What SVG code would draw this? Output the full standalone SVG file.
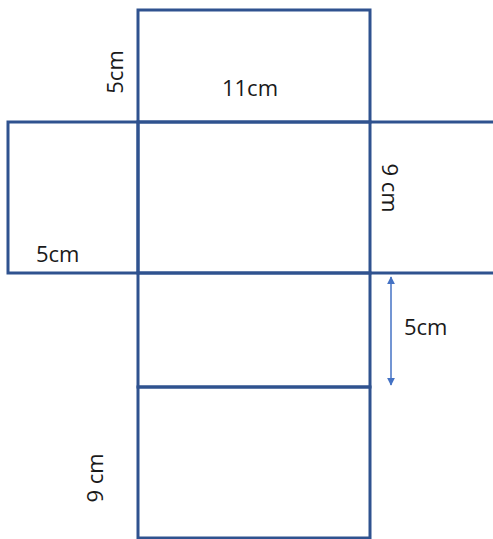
<svg xmlns="http://www.w3.org/2000/svg" width="493" height="539" viewBox="0 0 493 539">
<defs>
<style>
.face{fill:none;stroke:#2F528F;stroke-width:3}
.lbl{font-family:"Open Sans","Liberation Sans",sans-serif;font-size:22px;fill:#1a1a1a}
.dim{stroke:#4472C4;stroke-width:1.5;fill:none}
</style>
<marker id="ah" viewBox="0 0 10 10" refX="9" refY="5" markerWidth="8" markerHeight="8" orient="auto-start-reverse" markerUnits="userSpaceOnUse">
<path d="M0,0 L10,5 L0,10 z" fill="#4472C4"/>
</marker>
</defs>
<rect width="493" height="539" fill="#fff"/>
<g id="top-face">
<rect class="face" x="138" y="10" width="232" height="112"/>
<text class="lbl" x="250" y="96" text-anchor="middle">11cm</text>
<text class="lbl" x="0" y="0" text-anchor="middle" transform="translate(123,72) rotate(-90)">5cm</text>
</g>
<g id="left-face">
<rect class="face" x="8" y="122" width="130" height="151"/>
<text class="lbl" x="36" y="262">5cm</text>
</g>
<g id="front-face">
<rect class="face" x="138" y="122" width="232" height="151"/>
</g>
<g id="right-face">
<path class="face" d="M370,122 H493 M370,273 H493"/>
<text class="lbl" x="0" y="0" text-anchor="middle" transform="translate(382,188) rotate(90)">9 cm</text>
</g>
<g id="bottom-face">
<rect class="face" x="138" y="273" width="232" height="114"/>
</g>
<g id="back-face">
<rect class="face" x="138" y="387" width="232" height="151"/>
<text class="lbl" x="0" y="0" text-anchor="middle" transform="translate(103,478) rotate(-90)">9 cm</text>
</g>
<g id="connectors">
<line class="dim" x1="391" y1="277" x2="391" y2="385" marker-start="url(#ah)" marker-end="url(#ah)"/>
<text class="lbl" x="404" y="335">5cm</text>
</g>
</svg>
